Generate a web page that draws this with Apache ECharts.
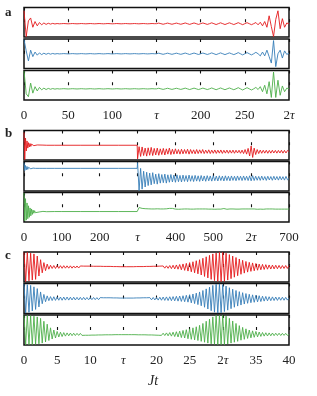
<!DOCTYPE html>
<html><head><meta charset="utf-8">
<script src="https://cdn.jsdelivr.net/npm/echarts/dist/echarts.min.js"></script>
<style>html,body{margin:0;padding:0;background:#fff}#c{width:317px;height:396px}</style>
</head><body><div id="c"></div>
<script>
// ---------- tick labels ----------
const aTickLabels = ['0','50','100','τ','200','250','2τ'];
const bTickLabels = ['0','100','200','τ','400','500','2τ','700'];
const cTickLabels = ['0','5','10','τ','20','25','2τ','35','40'];

// ---------- panel a : samples every 2.5 (0..300) ----------
const aStep = 2.5;
const aRed = [0.8,-1.0,0.1,0.3,-0.35,0.05,-0.25,-0.02,-0.18,-0.05,-0.15,-0.07,-0.13,-0.08,-0.12,-0.09,-0.11,
 -0.1,-0.09,-0.1,-0.11,-0.1,-0.09,-0.1,-0.11,-0.1,-0.09,-0.1,-0.11,-0.1,-0.09,-0.1,-0.11,-0.1,-0.09,-0.1,-0.11,
 -0.1,-0.09,-0.1,-0.11,-0.1,-0.09,-0.1,-0.11,-0.1,-0.09,-0.1,-0.11,-0.1,-0.09,-0.1,-0.11,-0.1,-0.09,-0.1,-0.11,-0.1,-0.09,-0.1,
 -0.1,-0.06,-0.1,-0.14,-0.1,-0.06,-0.1,-0.14,-0.1,-0.06,-0.1,-0.14,
 -0.1,-0.05,-0.1,-0.15,-0.1,-0.05,-0.1,-0.15,-0.1,-0.05,-0.1,-0.15,
 -0.1,-0.04,-0.1,-0.16,-0.1,-0.04,-0.1,-0.16,-0.1,-0.04,-0.1,-0.16,
 -0.1,-0.03,-0.1,-0.17,-0.1,-0.03,-0.1,-0.17,-0.1,-0.02,
 -0.18,0.0,-0.25,0.05,-0.35,0.45,-0.3,-1.0,0.2,0.8,-0.45,0.25,-0.35,-0.05,-0.12];
const aBlue = [1.0,0.2,-0.5,0.25,-0.2,0.12,-0.1,0.06,-0.06,0.04,-0.04,0.03,-0.03,0.02,-0.02,0.01,-0.01,
 0,0.01,0,-0.01,0,0.01,0,-0.01,0,0.01,0,-0.01,0,0.01,0,-0.01,0,0.01,0,-0.01,
 0,0.01,0,-0.01,0,0.01,0,-0.01,0,0.01,0,-0.01,0,0.01,0,-0.01,0,0.01,0,-0.01,0,0.01,0,
 0,0.04,0,-0.04,0,0.04,0,-0.04,0,0.04,0,-0.04,
 0,0.05,0,-0.05,0,0.05,0,-0.05,0,0.05,0,-0.05,
 0,0.06,0,-0.06,0,0.06,0,-0.06,0,0.06,0,-0.06,
 0,0.08,0,-0.08,0,0.08,0,-0.08,0,0.1,
 0.0,-0.15,0.12,-0.15,0.25,-0.2,-0.65,0.92,-0.9,0.0,0.25,-0.3,0.2,-0.05,0.05];
const aGreen = [1.0,-0.6,-0.8,0.15,-0.55,-0.1,-0.4,-0.15,-0.32,-0.2,-0.3,-0.22,-0.28,-0.23,-0.27,-0.24,-0.26,
 -0.25,-0.24,-0.25,-0.26,-0.25,-0.24,-0.25,-0.26,-0.25,-0.24,-0.25,-0.26,-0.25,-0.24,-0.25,-0.26,-0.25,-0.24,-0.25,-0.26,
 -0.25,-0.24,-0.25,-0.26,-0.25,-0.24,-0.25,-0.26,-0.25,-0.24,-0.25,-0.26,-0.25,-0.24,-0.25,-0.26,-0.25,-0.24,-0.25,-0.26,-0.25,-0.24,-0.25,
 -0.25,-0.21,-0.25,-0.29,-0.25,-0.21,-0.25,-0.29,-0.25,-0.21,-0.25,-0.29,
 -0.25,-0.2,-0.25,-0.3,-0.25,-0.2,-0.25,-0.3,-0.25,-0.2,-0.25,-0.3,
 -0.25,-0.19,-0.25,-0.31,-0.25,-0.19,-0.25,-0.31,-0.25,-0.19,-0.25,-0.31,
 -0.25,-0.17,-0.25,-0.33,-0.25,-0.17,-0.25,-0.33,-0.25,-0.15,
 -0.3,-0.1,-0.45,0.0,-0.6,0.25,-0.85,0.92,-0.85,0.35,-0.7,-0.05,-0.45,-0.2,-0.25];

// ---------- panel b : head samples at listed times, tail every 4 from 300 ----------
const bHeadT = [0,2,4,6,8,10,12,14,16,18,20,22,24,26,28,30,35,40,50,60,80,100,150,200,250,299];
const bRedHead = [0.9,-1.0,0.5,-0.4,0.3,-0.2,0.18,-0.12,0.12,-0.08,0.08,-0.05,0.06,-0.03,0.04,-0.02,0.02,0,0.01,0,0,0,0,0,0,0];
const bBlueHead = [0.95,0.4,0.75,0.45,0.68,0.48,0.62,0.5,0.6,0.52,0.58,0.53,0.57,0.54,0.56,0.55,0.56,0.55,0.55,0.55,0.55,0.55,0.55,0.55,0.55,0.55];
const bGreenHead = [1.0,-0.95,0.6,-0.9,0.3,-0.8,0.1,-0.7,-0.05,-0.6,-0.12,-0.5,-0.2,-0.42,-0.24,-0.38,-0.27,-0.33,-0.29,-0.31,-0.3,-0.3,-0.3,-0.3,-0.3,-0.3];
const bTailStart = 300, bTailStep = 4;
const bRedTail = [-0.95,-0.1,-0.78,-0.12,-0.72,-0.2,-0.76,-0.18,
 -0.7,-0.15,-0.72,-0.22,-0.68,-0.2,-0.7,-0.25,
 -0.65,-0.22,-0.68,-0.25,-0.62,-0.2,-0.65,-0.28,
 -0.62,-0.25,-0.6,-0.3,-0.62,-0.28,-0.6,-0.3,
 -0.58,-0.28,-0.62,-0.3,-0.58,-0.32,-0.6,-0.3,
 -0.58,-0.32,-0.56,-0.3,-0.58,-0.34,-0.56,-0.32,
 -0.58,-0.34,-0.56,-0.33,-0.57,-0.34,-0.55,-0.33,
 -0.57,-0.35,-0.55,-0.34,-0.56,-0.35,-0.55,-0.34,
 -0.56,-0.35,-0.54,-0.35,-0.56,-0.34,-0.58,-0.3,
 -0.62,-0.22,-0.75,-0.05,-0.85,-0.2,-0.65,-0.3,
 -0.58,-0.34,-0.56,-0.35,-0.55,-0.35,-0.56,-0.36,
 -0.55,-0.35,-0.54,-0.36,-0.55,-0.36,-0.54,-0.35,
 -0.55,-0.36,-0.54,-0.36,-0.45];
const bBlueTail = [0.95,-1.0,0.55,-0.9,0.35,-0.75,0.28,-0.65,
 0.22,-0.6,0.25,-0.52,0.15,-0.55,0.18,-0.48,
 0.12,-0.45,0.15,-0.48,0.1,-0.42,0.12,-0.4,
 0.08,-0.42,0.1,-0.38,0.06,-0.4,0.08,-0.36,
 0.05,-0.38,0.08,-0.35,0.04,-0.37,0.06,-0.34,
 0.03,-0.36,0.05,-0.33,0.02,-0.35,0.04,-0.32,
 0.02,-0.34,0.04,-0.31,0.01,-0.33,0.03,-0.3,
 0.01,-0.33,0.03,-0.3,0.0,-0.32,0.02,-0.29,
 0.0,-0.31,0.02,-0.28,0.0,-0.3,0.02,-0.28,
 0.0,-0.3,0.03,-0.32,0.04,-0.3,0.0,-0.28,
 -0.01,-0.29,0.01,-0.27,-0.02,-0.29,0.0,-0.26,
 -0.02,-0.28,0.0,-0.26,-0.02,-0.27,-0.01,-0.25,
 -0.03,-0.27,-0.01,-0.25,-0.15];
const bGreenTail = [-0.2,-0.02,0.0,-0.08,-0.12,-0.1,-0.13,-0.11,
 -0.13,-0.12,-0.14,-0.12,-0.13,-0.11,-0.13,-0.12,
 -0.14,-0.12,-0.13,-0.11,-0.12,-0.08,-0.04,-0.08,
 -0.12,-0.13,-0.12,-0.14,-0.12,-0.13,-0.14,-0.12,
 -0.13,-0.12,-0.14,-0.13,-0.12,-0.13,-0.14,-0.12,
 -0.13,-0.12,-0.14,-0.12,-0.13,-0.12,-0.14,-0.13,
 -0.12,-0.13,-0.12,-0.14,-0.12,-0.13,-0.12,-0.13,
 -0.1,-0.09,-0.12,-0.14,-0.13,-0.12,-0.13,-0.12,
 -0.14,-0.13,-0.12,-0.13,-0.14,-0.12,-0.13,-0.12,
 -0.13,-0.12,-0.14,-0.12,-0.13,-0.12,-0.13,-0.14,
 -0.12,-0.13,-0.12,-0.14,-0.13,-0.12,-0.13,-0.12,
 -0.13,-0.12,-0.14,-0.13,-0.12,-0.13,-0.12,-0.13,
 -0.12,-0.13,-0.12,-0.13,-0.12];

// ---------- panel c : samples every 0.25 (0..40) ----------
const cStep = 0.25;
const cRed = [1,-1,1,-0.95,0.95,-0.9,0.9,-0.85,
 0.75,-0.62,0.5,-0.4,0.3,-0.25,0.2,-0.15,
 0.12,-0.1,0.1,-0.1,0.1,-0.09,0.09,-0.09,
 0.09,-0.08,0.08,-0.08,0.08,-0.08,0.07,-0.07,
 0.07,-0.07,0.07,-0.06,0.06,-0.06,0.06,-0.06,
 0.06,-0.05,0.05,-0.05,0.05,-0.05,0.05,-0.05,
 0.04,-0.04,0.04,-0.04,0.04,-0.03,0.03,-0.03,
 0.03,-0.03,0.02,-0.02,0.02,-0.02,0.02,-0.02,
 0.02,-0.02,0.02,-0.02,0.03,-0.03,0.03,-0.03,
 0.03,-0.03,0.04,-0.04,0.04,-0.04,0.05,-0.05,
 0.05,-0.06,0.06,-0.07,0.07,-0.08,0.08,-0.09,
 0.1,-0.11,0.12,-0.13,0.14,-0.15,0.17,-0.19,
 0.21,-0.23,0.25,-0.28,0.3,-0.33,0.36,-0.4,
 0.43,-0.47,0.5,-0.55,0.6,-0.65,0.7,-0.75,
 0.8,-0.85,0.9,-0.93,0.96,-0.98,1,-1,
 1,-0.98,0.95,-0.9,0.85,-0.8,0.75,-0.7,
 0.65,-0.6,0.55,-0.5,0.46,-0.42,0.38,-0.35,
 0.32,-0.3,0.28,-0.26,0.24,-0.22,0.2,-0.19,
 0.18,-0.17,0.16,-0.15,0.14,-0.14,0.13,-0.13,
 0.12,-0.12,0.11,-0.11,0.1,-0.1,0.1,-0.1,
 0.1];
const cBlue = [1,-1,0.95,-0.95,0.9,-0.85,0.8,-0.75,
 0.68,-0.58,0.45,-0.36,0.28,-0.22,0.18,-0.15,
 0.13,-0.14,0.12,-0.13,0.11,-0.12,0.1,-0.12,
 0.1,-0.11,0.1,-0.11,0.09,-0.1,0.09,-0.1,
 0.08,-0.1,0.08,-0.09,0.08,-0.09,0.07,-0.09,
 0.07,-0.08,0.07,-0.08,0.06,-0.08,0.06,-0.07,
 0.05,-0.07,0.05,-0.07,0.05,-0.06,0.04,-0.06,
 0.04,-0.05,0.03,-0.05,0.03,-0.05,0.03,-0.05,
 0.03,-0.05,0.03,-0.06,0.04,-0.06,0.04,-0.07,
 0.05,-0.07,0.05,-0.08,0.06,-0.09,0.07,-0.1,
 0.08,-0.11,0.09,-0.12,0.1,-0.13,0.11,-0.14,
 0.12,-0.15,0.13,-0.16,0.15,-0.18,0.17,-0.2,
 0.19,-0.22,0.22,-0.25,0.26,-0.3,0.31,-0.35,
 0.37,-0.42,0.45,-0.5,0.55,-0.6,0.66,-0.72,
 0.78,-0.84,0.9,-0.94,0.98,-1,1,-0.98,
 0.95,-0.9,0.85,-0.8,0.74,-0.7,0.64,-0.6,
 0.55,-0.52,0.47,-0.45,0.4,-0.38,0.34,-0.33,
 0.29,-0.29,0.25,-0.26,0.22,-0.23,0.19,-0.21,
 0.16,-0.18,0.14,-0.16,0.12,-0.15,0.11,-0.14,
 0.1,-0.13,0.09,-0.12,0.09,-0.12,0.08,-0.11,
 0.05];
const cGreen = [1,-1,1,-1,0.98,-1,0.95,-0.98,
 0.9,-0.95,0.8,-0.9,0.6,-0.82,0.4,-0.72,
 0.15,-0.62,0.0,-0.55,-0.1,-0.48,-0.15,-0.45,
 -0.18,-0.42,-0.2,-0.4,-0.21,-0.39,-0.22,-0.38,
 -0.23,-0.37,-0.23,-0.37,-0.24,-0.36,-0.24,-0.36,
 -0.25,-0.35,-0.25,-0.35,-0.26,-0.34,-0.26,-0.34,
 -0.27,-0.33,-0.27,-0.33,-0.27,-0.33,-0.28,-0.32,
 -0.28,-0.32,-0.28,-0.32,-0.28,-0.32,-0.28,-0.32,
 -0.28,-0.32,-0.28,-0.32,-0.27,-0.33,-0.27,-0.33,
 -0.27,-0.33,-0.26,-0.34,-0.26,-0.34,-0.25,-0.35,
 -0.24,-0.36,-0.23,-0.37,-0.22,-0.38,-0.2,-0.4,
 -0.18,-0.42,-0.15,-0.45,-0.12,-0.48,-0.08,-0.52,
 -0.03,-0.55,0.02,-0.6,0.08,-0.64,0.15,-0.68,
 0.22,-0.72,0.32,-0.78,0.45,-0.84,0.6,-0.9,
 0.75,-0.95,0.9,-0.98,1,-1,1,-1,
 1,-1,0.95,-0.96,0.8,-0.9,0.62,-0.84,
 0.45,-0.78,0.3,-0.7,0.18,-0.64,0.08,-0.58,
 0.0,-0.54,-0.06,-0.5,-0.1,-0.47,-0.14,-0.44,
 -0.17,-0.42,-0.19,-0.41,-0.2,-0.4,-0.21,-0.39,
 -0.22,-0.38,-0.22,-0.38,-0.23,-0.37,-0.23,-0.37,
 -0.3];

// ---------- build ----------
const COLORS = ['#e41a1c', '#377eb8', '#4daf4a'];
const FONT = 'Liberation Serif';
const uniform = (arr, step) => arr.map((v, i) => [i * step, v]);
const bSeries = (head, tail) => head.map((v, i) => [bHeadT[i], v])
  .concat(tail.map((v, i) => [bTailStart + i * bTailStep, v]));

const panels = [
  { tops: [7.5, 39, 70.5], h: 29.5, max: 300, interval: 50, labels: aTickLabels,
    data: [uniform(aRed, aStep), uniform(aBlue, aStep), uniform(aGreen, aStep)] },
  { tops: [130.5, 161.5, 192.5], h: 29.5, max: 700, interval: 100, labels: bTickLabels,
    data: [bSeries(bRedHead, bRedTail), bSeries(bBlueHead, bBlueTail), bSeries(bGreenHead, bGreenTail)] },
  { tops: [252, 283.5, 315], h: 30, max: 40, interval: 5, labels: cTickLabels,
    data: [uniform(cRed, cStep), uniform(cBlue, cStep), uniform(cGreen, cStep)] }
];

const grid = [], xAxis = [], yAxis = [], series = [];
panels.forEach((p, pi) => {
  p.tops.forEach((top, k) => {
    const gi = grid.length;
    grid.push({ left: 24, width: 265, top: top, height: p.h, show: true,
      borderColor: '#111', borderWidth: 1.5, backgroundColor: 'transparent', containLabel: false });
    const showLab = k === 2;
    const labels = p.labels, iv = p.interval;
    const tick = { show: true, inside: true, length: 3, lineStyle: { color: '#111', width: 1.1 } };
    xAxis.push({ type: 'value', gridIndex: gi, min: 0, max: p.max, interval: iv, position: 'bottom',
      axisLine: { show: false }, splitLine: { show: false }, axisTick: tick,
      axisLabel: { show: showLab, margin: 9, fontFamily: FONT, fontSize: 13, color: '#222',
        formatter: v => (labels[Math.round(v / iv)] || '').replace('τ', '{i|τ}'),
        rich: { i: { fontFamily: FONT, fontSize: 13, fontStyle: 'italic', color: '#222' } } } });
    xAxis.push({ type: 'value', gridIndex: gi, min: 0, max: p.max, interval: iv, position: 'top',
      axisLine: { show: false }, splitLine: { show: false }, axisTick: tick, axisLabel: { show: false } });
    yAxis.push({ type: 'value', gridIndex: gi, min: -1.03, max: 1.03, show: false });
    series.push({ type: 'line', xAxisIndex: 2 * gi, yAxisIndex: gi, data: p.data[k],
      showSymbol: false, symbol: 'none', clip: true, z: 1,
      lineStyle: { color: COLORS[k], width: 0.9 } });
  });
});

const chart = echarts.init(document.getElementById('c'), null, { renderer: 'canvas' });
chart.setOption({
  animation: false,
  backgroundColor: '#fff',
  grid, xAxis, yAxis, series,
  graphic: [
    { type: 'text', left: 5, top: 6, style: { text: 'a', font: 'bold 13px "Liberation Serif"', fill: '#222' } },
    { type: 'text', left: 5, top: 127, style: { text: 'b', font: 'bold 13px "Liberation Serif"', fill: '#222' } },
    { type: 'text', left: 5, top: 249, style: { text: 'c', font: 'bold 13px "Liberation Serif"', fill: '#222' } },
    { type: 'text', left: 148, top: 374, style: { text: 'Jt', font: 'italic 14px "Liberation Serif"', fill: '#222' } }
  ]
});
</script></body></html>
